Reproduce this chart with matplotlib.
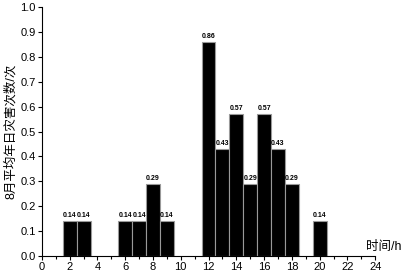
import matplotlib
matplotlib.use("Agg")
import matplotlib.pyplot as plt
from matplotlib.ticker import MultipleLocator

plt.rcParams['font.family'] = ['Liberation Sans', 'Noto Sans CJK SC', 'DejaVu Sans']

hours = [2, 3, 6, 7, 8, 9, 12, 13, 14, 15, 16, 17, 18, 20]
values = [0.14, 0.14, 0.14, 0.14, 0.29, 0.14, 0.86, 0.43, 0.57, 0.29, 0.57, 0.43, 0.29, 0.14]
labels = ["0.14", "0.14", "0.14", "0.14", "0.29", "0.14", "0.86", "0.43", "0.57", "0.29", "0.57", "0.43", "0.29", "0.14"]

fig = plt.figure(figsize=(4.03, 2.74), dpi=100)
ax = fig.add_axes([0.104, 0.066, 0.827, 0.908])

bars = ax.bar(hours, values, width=1.0, color='black', edgecolor='#999999', linewidth=0.8)
for b, lab in zip(bars, labels):
    ax.text(b.get_x() + b.get_width() / 2, b.get_height() + 0.008, lab,
            ha='center', va='bottom', fontsize=5, fontweight='bold')

ax.set_xlim(0, 24)
ax.set_ylim(0, 1.0)
ax.xaxis.set_major_locator(MultipleLocator(2))
ax.xaxis.set_minor_locator(MultipleLocator(1))
ax.yaxis.set_major_locator(MultipleLocator(0.1))
ax.yaxis.set_major_formatter(matplotlib.ticker.FormatStrFormatter('%.1f'))
ax.spines['top'].set_visible(False)
ax.spines['right'].set_visible(False)
ax.tick_params(axis='both', which='major', labelsize=8, length=3, width=0.8, direction='out', pad=1.5)
ax.tick_params(axis='both', which='minor', length=2, width=0.8, direction='out')

ax.set_ylabel('8月平均年日灾害次数/次', fontsize=9, labelpad=2)
fig.text(0.997, 0.075, '时间/h', ha='right', va='bottom', fontsize=9)

fig.savefig('out.png', dpi=100)
